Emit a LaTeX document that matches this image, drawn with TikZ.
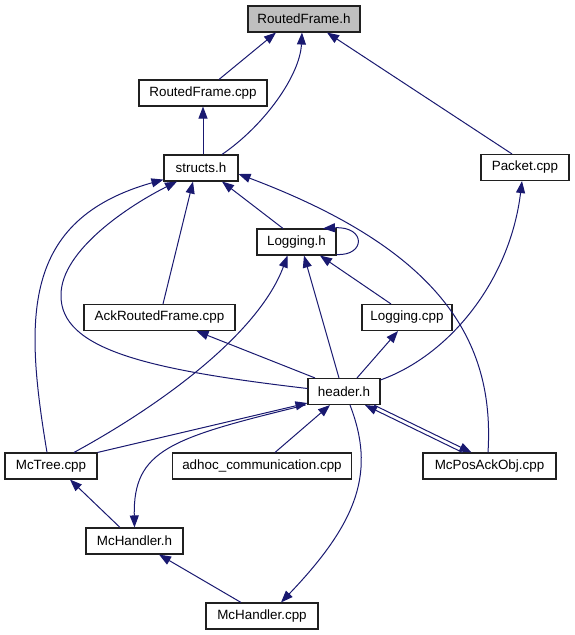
\documentclass[tikz,border=0pt]{standalone}
\usepackage{fontspec}
\setmainfont{Liberation Sans}
\usetikzlibrary{arrows.meta}
\definecolor{edgecol}{HTML}{191970}
\definecolor{rootfill}{HTML}{BFBFBF}
\definecolor{boxline}{HTML}{202020}
\begin{document}
\begin{tikzpicture}[x=1pt,y=-1pt,
  file/.style={draw=boxline, line width=1.1pt, minimum height=26pt, inner sep=0pt,
    font=\fontsize{13.4}{15}\selectfont},
  edge/.style={draw=edgecol, line width=1pt, -{Triangle[length=12pt,width=9pt]}, fill=none},
]
\useasboundingbox (0,0) rectangle (575,635);

% nodes
\node[file, fill=rootfill, minimum width=112pt] (rfh) at (304,19) {RoutedFrame.h};
\node[file, minimum width=128pt] (rfcpp) at (203,93) {RoutedFrame.cpp};
\node[file, minimum width=74pt] (structs) at (201,168) {structs.h};
\node[file, minimum width=88pt] (packet) at (525,167.5) {Packet.cpp};
\node[file, minimum width=79pt] (logh) at (296.5,242) {Logging.h};
\node[file, minimum width=151pt] (ackrf) at (159.5,317.5) {AckRoutedFrame.cpp};
\node[file, minimum width=90pt] (logcpp) at (407,317.5) {Logging.cpp};
\node[file, minimum width=72pt] (header) at (344,391.5) {header.h};
\node[file, minimum width=92pt] (mctree) at (51,466) {McTree.cpp};
\node[file, minimum width=179pt] (adhoc) at (262,466) {adhoc\_communication.cpp};
\node[file, minimum width=133pt] (mcpos) at (489.5,466) {McPosAckObj.cpp};
\node[file, minimum width=97pt] (mchh) at (134.5,541) {McHandler.h};
\node[file, minimum width=112pt] (mchcpp) at (262,616) {McHandler.cpp};

% edges (arrow at the included file)
\draw[edge] ([xshift=16pt]rfcpp.north) -- ([xshift=-28pt]rfh.south);
\draw[edge] ([xshift=21pt]structs.north) .. controls (265,125) and (300,75) .. ([xshift=-2pt]rfh.south);
\draw[edge] ([xshift=-13pt]packet.north) -- ([xshift=23pt]rfh.south);
\draw[edge] ([xshift=2pt]structs.north) -- (rfcpp.south);

\draw[edge] ([xshift=-4pt]mctree.north) .. controls (25,320) and (20,220) .. ([yshift=2pt]structs.south west);
\draw[edge] ([yshift=3pt]header.west) .. controls (150,370) and (60,350) .. (61,295)
   .. controls (61,250) and (130,205) .. ([xshift=-24pt]structs.south);
\draw[edge] ([xshift=3.5pt]ackrf.north) -- ([xshift=-8pt]structs.south);
\draw[edge] ([xshift=-13.5pt]logh.north) -- ([xshift=21pt]structs.south);
\draw[edge] ([xshift=-1.5pt]mcpos.north) .. controls (495,340) and (440,250) .. ([yshift=-6pt]structs.east);

\draw[edge] ([yshift=-2pt]header.north east) .. controls (450,355) and (510,280) .. ([xshift=-3pt]packet.south);

\draw[edge] ([yshift=1pt]logh.south east) .. controls (366,256) and (366,226) .. ([xshift=26.5pt]logh.north);
\draw[edge] ([xshift=23pt]mctree.north) .. controls (170,400) and (260,330) .. ([xshift=-9pt]logh.south);
\draw[edge] ([xshift=-5pt]header.north) -- ([xshift=7.5pt]logh.south);
\draw[edge] ([xshift=-16pt]logcpp.north) -- ([xshift=23.5pt]logh.south);

\draw[edge] ([xshift=-29pt]header.north) -- ([xshift=37pt]ackrf.south);
\draw[edge] ([xshift=13pt]header.north) -- ([xshift=-9pt]logcpp.south);

\draw[edge] (mctree.north east) -- ([yshift=2pt]header.south west);
\draw[edge] ([xshift=-2pt]header.south west) .. controls (170,438) and (133,450) .. (mchh.north);
\draw[edge] ([xshift=13pt]adhoc.north) -- ([xshift=-14pt]header.south);
\draw[edge] ([xshift=6pt]header.south) .. controls (375,470) and (360,520) .. ([xshift=19pt]mchcpp.north);
\draw[edge] ([xshift=30pt]header.south) -- ([xshift=-18pt]mcpos.north);
\draw[edge] ([xshift=-27pt]mcpos.north) -- ([xshift=21pt]header.south);

\draw[edge] ([xshift=-14.5pt]mchh.north) -- ([xshift=19pt]mctree.south);
\draw[edge] ([xshift=-21pt]mchcpp.north) -- ([xshift=24.5pt]mchh.south);
\end{tikzpicture}
\end{document}
